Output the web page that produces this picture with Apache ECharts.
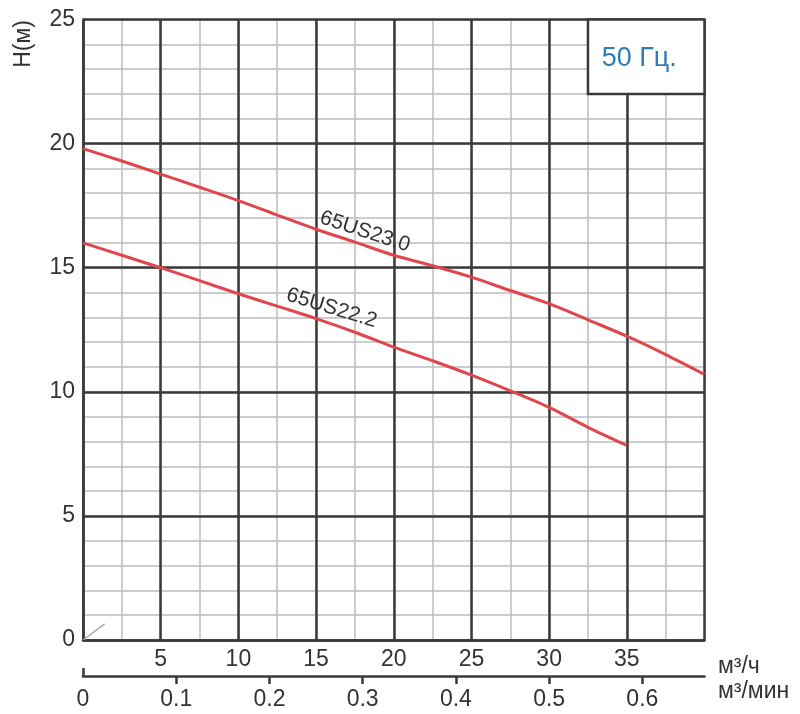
<!DOCTYPE html>
<html lang="ru">
<head>
    <meta charset="UTF-8">
    <title>65US 50 Гц</title>
    <style>
        body{
            margin: 0;
            background: #fff;
        }
    </style>
</head>
<body>
<div id="myChart" style="width: 800px;height: 714px;"></div>
<script src="https://cdn.jsdelivr.net/npm/echarts@6/dist/echarts.min.js"></script>
<script>
    // расход, м3/ч
    let flow = [0, 2.5, 5, 7.5, 10, 12.5, 15, 17.5, 20, 22.5, 25, 27.5, 30, 32.5, 35, 37.5, 40];
    // напор, м
    let head230 = [19.8, 19.3, 18.77, 18.24, 17.7, 17.12, 16.55, 16.03, 15.5, 15.08, 14.62, 14.08, 13.55, 12.9, 12.24, 11.5, 10.7];
    let head222 = [16.0, 15.5, 15.0, 14.48, 13.95, 13.45, 12.95, 12.4, 11.8, 11.25, 10.67, 10.04, 9.37, 8.57, 7.84];

    let hourTicks = [5, 10, 15, 20, 25, 30, 35];
    let minTicks = [0, 0.1, 0.2, 0.3, 0.4, 0.5, 0.6];
    let originMark = [[0, 0], [1.4, 0.65]];

    let dark = '#3a3a3a';
    let light = '#bdbdbd';
    let red = '#e0474c';

    function pairs(xs, ys) {
        return ys.map(function (y, i) { return [xs[i], y]; });
    }

    var myChart = echarts.init(document.getElementById('myChart'));

    option = {
        animation: false,
        grid: {left: 83, top: 19.5, right: 95.5, bottom: 74},
        textStyle: {fontFamily: '"Liberation Sans", Arial, sans-serif'},
        xAxis: [
            {
                // основная сетка, м3/ч
                type: 'value', min: 0, max: 40, interval: 5, z: 1,
                axisLine: {show: true, onZero: false, lineStyle: {color: dark, width: 2.5}},
                axisTick: {show: false},
                axisLabel: {customValues: hourTicks, color: '#333', fontSize: 23, margin: 8},
                splitLine: {show: true, lineStyle: {color: dark, width: 2.5}}
            },
            {
                // мелкая сетка
                type: 'value', min: 0, max: 40, interval: 2.5, position: 'top', z: 0,
                axisLine: {show: false}, axisTick: {show: false}, axisLabel: {show: false},
                splitLine: {show: true, lineStyle: {color: light, width: 1.5}}
            },
            {
                // м3/мин
                type: 'value', min: 0, max: 40 / 60, position: 'bottom', offset: 36,
                axisLine: {show: true, onZero: false, lineStyle: {color: dark, width: 2.5}},
                axisTick: {show: true, customValues: minTicks.slice(1), inside: false, length: 8, lineStyle: {color: dark, width: 2.5}},
                axisLabel: {customValues: minTicks, color: '#333', fontSize: 23, margin: 12},
                splitLine: {show: false}
            },
            {
                type: 'value', min: 0, max: 40 / 60, position: 'bottom', offset: 36,
                axisLine: {show: false, onZero: false},
                axisTick: {show: true, customValues: [0], inside: true, length: 8, lineStyle: {color: dark, width: 2.5}},
                axisLabel: {show: false},
                splitLine: {show: false}
            }
        ],
        yAxis: [
            {
                type: 'value', min: 0, max: 25, interval: 5, z: 1,
                axisLine: {show: true, onZero: false, lineStyle: {color: dark, width: 2.5}},
                axisTick: {show: false},
                axisLabel: {color: '#333', fontSize: 23, margin: 8},
                splitLine: {show: true, lineStyle: {color: dark, width: 2.5}}
            },
            {
                type: 'value', min: 0, max: 25, interval: 1, position: 'right', z: 0,
                axisLine: {show: false}, axisTick: {show: false}, axisLabel: {show: false},
                splitLine: {show: true, lineStyle: {color: light, width: 1.5}}
            }
        ],
        graphic: [
            {type: 'text', x: 24, y: 44, rotation: Math.PI / 2, style: {text: 'H(м)', fill: '#333', font: '23px "Liberation Sans"', align: 'center', verticalAlign: 'middle'}},
            {type: 'text', x: 718, y: 667, style: {text: 'м³/ч', fill: '#333', font: '23px "Liberation Sans"', verticalAlign: 'middle'}},
            {type: 'text', x: 718, y: 692, style: {text: 'м³/мин', fill: '#333', font: '23px "Liberation Sans"', verticalAlign: 'middle'}}
        ],
        series: [
            {
                name: '65US23.0',
                type: 'line',
                smooth: 0.3,
                symbol: 'none',
                lineStyle: {color: red, width: 3},
                data: pairs(flow, head230),
                markPoint: {
                    symbolSize: 0,
                    label: {show: true, position: 'inside', rotate: -18, color: '#333', fontSize: 21, formatter: '65US23.0'},
                    data: [{coord: [18.15, 16.45]}]
                },
                markArea: {
                    silent: true,
                    itemStyle: {color: '#fff', borderColor: dark, borderWidth: 2.5},
                    label: {show: true, position: 'inside', offset: [-7, 2], color: '#2f7db6', fontSize: 27, formatter: '50 Гц.'},
                    data: [[{coord: [32.5, 22]}, {coord: [40, 25]}]]
                }
            },
            {
                name: '65US22.2',
                type: 'line',
                smooth: 0.3,
                symbol: 'none',
                lineStyle: {color: red, width: 3},
                data: pairs(flow, head222),
                markPoint: {
                    symbolSize: 0,
                    label: {show: true, position: 'inside', rotate: -17, color: '#333', fontSize: 21, formatter: '65US22.2'},
                    data: [{coord: [16.0, 13.37]}]
                }
            },
            {
                type: 'line',
                symbol: 'none',
                silent: true,
                lineStyle: {color: '#aaa', width: 1.5},
                data: originMark
            }
        ]
    };
    myChart.setOption(option);
</script>
</body>
</html>
